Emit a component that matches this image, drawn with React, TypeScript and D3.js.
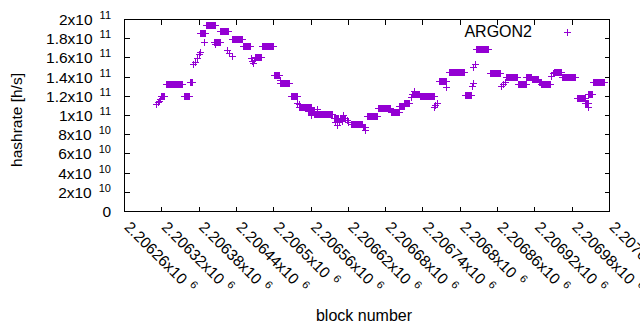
import React from 'react';
import * as d3 from 'd3';

// Runs of blocks sharing one hashrate reading (value in units of 1e9 h/s)
const runStart = [2206312, 2206314, 2206316, 2206318, 2206319, 2206327, 2206356, 2206366, 2206371, 2206374, 2206378, 2206381, 2206382, 2206383, 2206389, 2206392, 2206405, 2206407, 2206414, 2206426, 2206429, 2206433, 2206434, 2206451, 2206464, 2206466, 2206468, 2206469, 2206471, 2206482, 2206501, 2206511, 2206511, 2206528, 2206539, 2206541, 2206541, 2206556, 2206560, 2206566, 2206570, 2206576, 2206597, 2206599, 2206603, 2206606, 2206607, 2206610, 2206612, 2206618, 2206620, 2206625, 2206644, 2206647, 2206650, 2206668, 2206689, 2206703, 2206711, 2206721, 2206723, 2206726, 2206736, 2206758, 2206760, 2206763, 2206766, 2206778, 2206783, 2206808, 2206820, 2206821, 2206822, 2206824, 2206826, 2206848, 2206866, 2206870, 2206873, 2206874, 2206893, 2206907, 2206916, 2206927, 2206931, 2206947, 2206950, 2206951, 2206964, 2206988, 2207001, 2207006, 2207007, 2207014];
const runEnd = [2206312, 2206314, 2206316, 2206318, 2206325, 2206354, 2206364, 2206369, 2206371, 2206374, 2206378, 2206381, 2206382, 2206391, 2206389, 2206406, 2206415, 2206407, 2206427, 2206426, 2206429, 2206433, 2206450, 2206462, 2206464, 2206466, 2206468, 2206469, 2206480, 2206500, 2206510, 2206511, 2206526, 2206538, 2206539, 2206541, 2206561, 2206565, 2206560, 2206575, 2206570, 2206595, 2206604, 2206599, 2206603, 2206606, 2206616, 2206610, 2206612, 2206618, 2206620, 2206643, 2206648, 2206647, 2206667, 2206688, 2206702, 2206710, 2206719, 2206721, 2206735, 2206726, 2206758, 2206758, 2206760, 2206763, 2206778, 2206778, 2206807, 2206818, 2206820, 2206821, 2206822, 2206824, 2206846, 2206864, 2206866, 2206870, 2206873, 2206892, 2206906, 2206915, 2206926, 2206930, 2206945, 2206947, 2206950, 2206963, 2206986, 2207001, 2207006, 2207006, 2207013, 2207032];
const runValue = [111.5, 113.5, 114.5, 117, 120.3, 132.8, 120.3, 134.4, 152.8, 155.2, 159.7, 163.2, 165.3, 184.9, 176.4, 193.4, 176.4, 174, 187, 168.2, 165.1, 161.5, 178.9, 171.6, 159.4, 156.3, 154.2, 157.3, 159.9, 171.6, 141.4, 136.5, 133.3, 119.5, 112.5, 111.5, 108.3, 104.5, 99.5, 101.5, 106, 100.7, 97, 92.5, 90, 93, 97, 94, 100, 94.8, 93, 90.3, 87, 84.5, 99, 107, 103, 109, 113, 118.5, 122, 125.5, 120, 108.5, 110.4, 113, 135.7, 129.2, 144.5, 121, 130.2, 150, 133.3, 153.1, 168.4, 144.1, 130, 132.8, 134.4, 139.3, 132.6, 140, 137, 134.4, 132, 140.6, 143.4, 145.1, 139.3, 117.4, 112.5, 108, 121.4, 134.4];

const yTicks = [0, 2e10, 4e10, 6e10, 8e10, 1e11, 1.2e11, 1.4e11, 1.6e11, 1.8e11, 2e11];
const yTickBase = ['0', '2x10', '4x10', '6x10', '8x10', '1x10', '1.2x10', '1.4x10', '1.6x10', '1.8x10', '2x10'];
const yTickExp = ['', '10', '10', '10', '10', '11', '11', '11', '11', '11', '11'];

const xTicks = [2206260, 2206320, 2206380, 2206440, 2206500, 2206560, 2206620, 2206680, 2206740, 2206800, 2206860, 2206920, 2206980, 2207040];
const xTickBase = ['2.20626x10', '2.20632x10', '2.20638x10', '2.20644x10', '2.2065x10', '2.20656x10', '2.20662x10', '2.20668x10', '2.20674x10', '2.2068x10', '2.20686x10', '2.20692x10', '2.20698x10', '2.20704x10'];
const xTickExp = '6';

const seriesName = 'ARGON2';
const xTitle = 'block number';
const yTitle = 'hashrate [h/s]';

const COLOR = '#9400D3';
const FONT = '"Liberation Sans", Arial, sans-serif';

export default function App() {
  const W = 640, H = 330;
  const L = 124.5, R = 609.5, T = 19.5, B = 211.5;
  const x = d3.scaleLinear().domain([2206260, 2207040]).range([L, R]);
  const y = d3.scaleLinear().domain([0, 2e11]).range([B, T]);

  const pts: [number, number][] = [];
  runStart.forEach((s, i) => {
    for (let b = s; b <= runEnd[i]; b++) pts.push([b, runValue[i] * 1e9]);
  });
  const arm = 3.5;
  const plus = (cx: number, cy: number) => {
    const px = Math.round(cx - 0.5) + 0.5, py = Math.round(cy - 0.5) + 0.5;
    return `M${px - arm},${py}H${px + arm}M${px},${py - arm}V${py + arm}`;
  };
  const ptPath = pts.map(([b, v]) => plus(x(b), y(v))).join('');

  const tickLen = 5;
  let tickPath = '';
  yTicks.forEach((t) => {
    const yy = Math.round(y(t) - 0.5) + 0.5;
    tickPath += `M${L},${yy}H${L + tickLen}M${R},${yy}H${R - tickLen}`;
  });
  xTicks.forEach((t) => {
    const xx = Math.round(x(t) - 0.5) + 0.5;
    tickPath += `M${xx},${B}V${B - tickLen}M${xx},${T}V${T + tickLen}`;
  });

  return (
    <div style={{ position: 'fixed', left: 0, top: 0 }}>
      <svg width={W} height={H} viewBox={`0 0 ${W} ${H}`} style={{ display: 'block', background: '#fff' }} fontFamily={FONT}>
        <rect x={0} y={0} width={W} height={H} fill="#fff" />
        <path d={tickPath} stroke="#000" strokeWidth={1} fill="none" shapeRendering="crispEdges" />
        <rect x={L} y={T} width={R - L} height={B - T} fill="none" stroke="#000" strokeWidth={1} shapeRendering="crispEdges" />
        {yTicks.map((t, i) => (
          <text key={'yl' + i} x={111} y={y(t)} dy="0.36em" textAnchor="end" fontSize={15.5} fill="#000">
            {yTickBase[i]}
            {yTickExp[i] && (
              <tspan dx={7} dy={-6} fontSize={11}>{yTickExp[i]}</tspan>
            )}
          </text>
        ))}
        {xTicks.map((t, i) => (
          <text key={'xl' + i} transform={`translate(${x(t) - 1},228) rotate(45)`} fontSize={15.5} fill="#000">
            {xTickBase[i]}
            <tspan dx={6} dy={-6} fontSize={11}>{xTickExp}</tspan>
          </text>
        ))}
        <text transform="translate(22,120) rotate(-90)" textAnchor="middle" fontSize={15.5} fill="#000">{yTitle}</text>
        <text x={364} y={321} textAnchor="middle" fontSize={16} fill="#000">{xTitle}</text>
        <text x={532} y={37} textAnchor="end" fontSize={16} fill="#000">{seriesName}</text>
        <path d={plus(567, 32)} stroke={COLOR} strokeWidth={1} fill="none" shapeRendering="crispEdges" />
        <path d={ptPath} stroke={COLOR} strokeWidth={1} fill="none" shapeRendering="crispEdges" />
      </svg>
    </div>
  );
}
